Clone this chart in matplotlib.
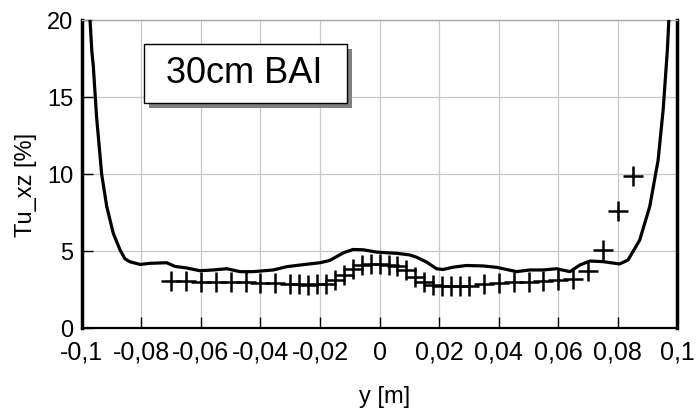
import matplotlib
matplotlib.use('Agg')
import matplotlib.pyplot as plt
from matplotlib.patches import Rectangle

plt.rcParams['font.family'] = ['Liberation Sans', 'DejaVu Sans']

# simulated profile (solid line)
sim_y = [-0.0980, -0.0972, -0.0966, -0.0961, -0.0950, -0.0933, -0.0916, -0.0894,
         -0.0871, -0.0855, -0.0838, -0.0804, -0.0771, -0.0715, -0.0687, -0.0648,
         -0.0603, -0.0558, -0.0513, -0.0469, -0.0424, -0.0357, -0.0312, -0.0267,
         -0.0200, -0.0167, -0.0122, -0.0089, -0.0055, -0.0010, 0.0030, 0.0057,
         0.0100, 0.0124, 0.0158, 0.0191, 0.0213, 0.0247, 0.0291, 0.0348,
         0.0393, 0.0460, 0.0504, 0.0549, 0.0594, 0.0639, 0.0672, 0.0706,
         0.0750, 0.0806, 0.0834, 0.0873, 0.0907, 0.0935, 0.0952, 0.0966,
         0.0971, 0.0976]
sim_tu = [22.0, 20.0, 18.0, 17.0, 13.7, 10.0, 7.9, 6.15,
          5.06, 4.5, 4.3, 4.13, 4.2, 4.24, 4.0, 3.9,
          3.72, 3.77, 3.85, 3.66, 3.66, 3.77, 3.98, 4.09,
          4.24, 4.39, 4.88, 5.1, 5.08, 4.93, 4.88, 4.85,
          4.75, 4.6, 4.28, 3.85, 3.8, 3.95, 4.06, 4.03,
          3.94, 3.66, 3.77, 3.77, 3.85, 3.66, 4.09, 4.35,
          4.31, 4.16, 4.42, 5.7, 7.9, 10.9, 14.2, 18.05,
          20.0, 22.0]

# measurement points (+)
meas_y = [-0.070, -0.065, -0.060, -0.055, -0.050, -0.045, -0.040, -0.035,
          -0.030, -0.027, -0.024, -0.021, -0.018, -0.015, -0.012, -0.009,
          -0.006, -0.003, 0.000, 0.003, 0.006, 0.009, 0.012, 0.015,
          0.018, 0.021, 0.024, 0.027, 0.030, 0.035, 0.040, 0.045,
          0.050, 0.055, 0.060, 0.065, 0.070, 0.075, 0.080, 0.085]
meas_tu = [3.07, 3.07, 3.0, 3.0, 3.0, 2.97, 2.95, 2.92,
           2.86, 2.84, 2.82, 2.84, 2.88, 3.1, 3.46, 3.85,
           4.11, 4.17, 4.17, 4.11, 4.02, 3.74, 3.31, 2.99,
           2.77, 2.73, 2.73, 2.73, 2.76, 2.84, 2.9, 2.96,
           3.0, 3.05, 3.12, 3.2, 3.72, 5.06, 7.6, 9.87]

xticks = [-0.1, -0.08, -0.06, -0.04, -0.02, 0, 0.02, 0.04, 0.06, 0.08, 0.1]
xlabels = ['-0,1', '-0,08', '-0,06', '-0,04', '-0,02', '0', '0,02', '0,04', '0,06', '0,08', '0,1']
yticks = [0, 5, 10, 15, 20]

fig = plt.figure(figsize=(6.97, 4.11), dpi=100)
ax = fig.add_axes([0.1172, 0.2019, 0.8548, 0.7494])

ax.plot(sim_y, sim_tu, color='black', lw=2.3, zorder=3,
        solid_joinstyle='round', solid_capstyle='round')
ax.plot(meas_y, meas_tu, linestyle='none', marker='+', color='black',
        markersize=15, markeredgewidth=1.8, zorder=4)

ax.set_xlim(-0.1, 0.1)
ax.set_ylim(0, 20)
ax.set_xticks(xticks)
ax.set_xticklabels(xlabels)
ax.set_yticks(yticks)
ax.grid(True, color='#c8c8c8', lw=0.9)
ax.set_axisbelow(True)

ax.tick_params(axis='x', direction='in', length=8, width=1, labelsize=18, pad=9)
ax.tick_params(axis='y', direction='in', length=8, width=1, labelsize=17, pad=6)

for s in ['left', 'right']:
    ax.spines[s].set_linewidth(2.5)
ax.spines['bottom'].set_linewidth(1.6)
ax.spines['top'].set_color('#a8a8a8')
ax.spines['top'].set_linewidth(1.0)

ax.set_xlabel('y [m]', fontsize=17)
ax.xaxis.set_label_coords(0.508, -0.188)
ax.set_ylabel('Tu_xz [%]', fontsize=17)
ax.yaxis.set_label_coords(-0.075, 0.466)

# label box with shadow
ax.add_patch(Rectangle((0.1130, 0.7133), 0.3412, 0.1925, transform=ax.transAxes,
                       facecolor='#808080', edgecolor='none', zorder=5))
ax.add_patch(Rectangle((0.1046, 0.7295), 0.3412, 0.1925, transform=ax.transAxes,
                       facecolor='white', edgecolor='black', lw=1, zorder=6))
ax.text(0.272, 0.825, '30cm BAI', transform=ax.transAxes, fontsize=26,
        ha='center', va='center', zorder=7)

plt.savefig('out.png', dpi=100)
